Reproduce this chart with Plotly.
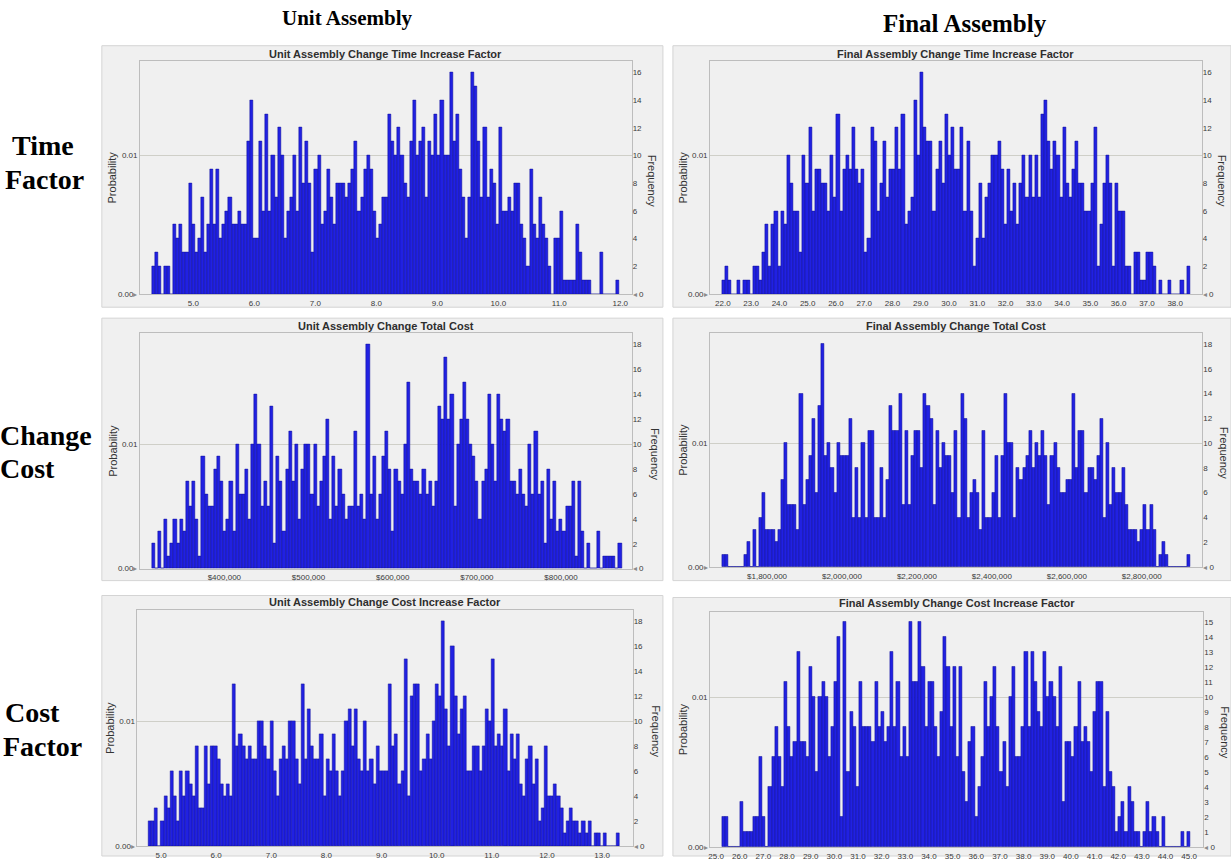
import numpy as np
import plotly.graph_objects as go

W, H = 1231, 861

# ---------------- data (frequency counts per bin, 1000 trials) ----------------
ua_time_counts = [2,3,2,0,2,2,0,5,4,5, 3,3,8,5,3,4,7,3,5,9, 5,9,4,5,6,7,5,5,6,5,
                  5,11,14,4,4,11,6,13,6,10, 7,12,10,4,6,7,10,6,12,8, 11,8,3,9,10,5,6,9,7,5,
                  8,8,8,7,8,9,11,6,7,9, 10,9,6,4,5,7,7,13,
                  11,10,12,10,8,7,11,14,10,11, 12,7,11,10,13,10,14,10,10,16, 11,13,9,7,4,7,16,15,11,7,
                  12,7,9,8,5,12,6,6,7,6, 8,8,5,4,2,9,5,4,7,5, 4,2,0,4,4,6,1,1,1,1,
                  5,3,1,1,1,0,0,0,3,0, 0,0,0,1]
ua_time_span = [4.317, 11.974]

fa_time_counts = [1,2,1,0,0,1,0,1,1,0, 2,2,1,3,5,2,5,6,2,6, 5,10,8,6,6,3,10,8,12,6,
                  9,9,8,8,6,10,7,13,6,9, 10,9,12,9,8,9,3,4,12,11, 6,8,11,7,9,9,12,9,13,5,
                  6,7,14,10,16,12,11,11,6,9, 11,8,13,10,12,9,
                  9,12,6,11,6,2,4,8,4,7, 8,10,10,11,9,5,9,6,8,5, 8,10,7,10,7,10,7,13,14,11,
                  9,11,10,7,12,8,7,9,11,8, 8,6,6,8,12,2,5,8,10,8, 2,8,6,6,2,2,0,3,3,1,
                  1,3,3,2,0,1,0,0,1,0, 0,0,1,0,2]
fa_time_span = [21.965, 38.52]

ua_cost_counts = [2,0,3,0,4,1,2,4,2,4, 3,7,5,7,4,1,9,6,5,5, 8,9,7,3,4,7,3,10,6,6,
                  8,4,10,14,10,5,7,5,13,2, 9,7,3,8,11,7,10,4,8,10, 10,6,10,5,7,9,12,4,9,5,
                  8,6,4,5,5,11,5,6,4,18, 6,9,4,6,9,11,8,
                  3,8,7,6,10,15,8,7,7,6, 8,6,7,5,7,13,12,17,12,14, 5,10,12,15,12,10,9,7,4,7,
                  8,14,10,7,14,12,11,12,7,7, 6,8,6,5,10,6,11,6,7,2, 8,4,7,3,4,3,5,5,7,1,
                  7,3,0,2,0,0,3,0,1,1, 1,1,0,2]
ua_cost_span = [313760, 872000]

fa_cost_counts = [1,1,0,0,0,0,0,1,2,0, 3,0,4,6,3,3,3,2,3,7, 10,5,5,5,3,14,5,7,9,12,
                  6,13,18,9,10,8,6,10,9,9, 9,12,4,8,4,10,4,11,11,4, 4,8,4,7,13,11,11,14,5,11,
                  5,9,11,11,8,14,13,12,5,11, 8,10,9,9,6,
                  11,4,14,12,4,6,7,6,3,11, 4,4,6,9,4,9,14,10,10,4, 8,7,8,9,11,8,10,9,11,9,
                  5,9,10,8,6,6,7,7,14,8, 11,11,6,8,8,7,9,12,4,10, 5,8,6,6,8,5,3,3,3,2,
                  3,5,3,5,3,0,1,2,1,0, 0,0,0,0,0,1]
fa_cost_span = [1680130, 2928660]

ua_cf_counts = [2,2,3,0,2,4,3,6,4,2, 6,4,6,5,4,8,3,3,8,5, 8,8,7,5,4,5,4,13,8,9,
                8,7,8,7,7,10,10,8,7,10, 6,4,7,8,7,10,10,7,5,13, 7,11,8,7,7,9,4,7,6,9,
                6,4,6,10,11,8,11,7,6,10, 6,7,5,8,6,6,6,13,
                8,9,5,6,15,4,12,13,13,6, 7,9,7,10,13,12,18,11,8,16, 12,9,11,12,6,6,8,8,6,8,
                11,10,15,8,9,8,11,6,9,7, 9,5,4,7,8,5,7,2,3,8, 4,4,5,4,3,1,2,3,2,2,
                1,2,1,2,0,1,1,0,1,0, 0,0,1]
ua_cf_span = [4.772, 13.313]

fa_cf_counts = [2,2,0,0,0,0,3,1,1,1, 2,2,6,2,0,4,6,8,6,4, 11,8,6,7,13,7,7,6,12,10,
                5,10,11,10,6,8,11,14,2,15, 5,9,8,4,11,8,8,8,7,11, 8,9,7,8,13,8,11,6,8,6,
                15,11,11,15,12,8,11,11,8,6, 9,14,12,8,12,6,
                12,5,3,7,8,2,4,6,11,8, 10,12,8,5,7,4,10,12,6,6, 8,13,8,13,11,9,8,13,10,11,
                10,8,12,3,7,7,6,8,11,7, 8,7,5,9,11,11,4,9,5,4, 1,2,3,1,4,3,1,1,0,1,
                3,1,2,1,0,2,0,0,0,0, 0,1,0,1]
fa_cf_span = [25.24, 45.04]

titles = ["Unit Assembly Change Time Increase Factor",
          "Final Assembly Change Time Increase Factor",
          "Unit Assembly Change Total Cost",
          "Final Assembly Change Total Cost",
          "Unit Assembly Change Cost Increase Factor",
          "Final Assembly Change Cost Increase Factor"]

ua_time_ticks = [5.0, 6.0, 7.0, 8.0, 9.0, 10.0, 11.0, 12.0]
fa_time_ticks = [float(v) for v in range(22, 39)]
ua_cost_ticks = [400000, 500000, 600000, 700000, 800000]
fa_cost_ticks = [1800000, 2000000, 2200000, 2400000, 2600000, 2800000]
ua_cf_ticks = [5.0, 6.0, 7.0, 8.0, 9.0, 10.0, 11.0, 12.0, 13.0]
fa_cf_ticks = [float(v) for v in range(25, 46)]

prob_ticks = [0.0, 0.01]
trials = 1000

col_headings = ["Unit Assembly", "Final Assembly"]
row_words = [["Time", "Factor"], ["Change", "Cost"], ["Cost", "Factor"]]

# ---------------- layout configuration (pixels) ----------------
panels = [
    dict(counts=ua_time_counts, span=ua_time_span, ticks=ua_time_ticks, fmt=".1f",
         xr=[4.126, 12.187], top=16.8, step=2,
         plot=(138.3, 61.7, 630.7, 295.7), frame=(100, 46, 662, 309),
         ty=54, probx=110, freqx=651),
    dict(counts=fa_time_counts, span=fa_time_span, ticks=fa_time_ticks, fmt=".1f",
         xr=[21.55, 38.94], top=16.8, step=2,
         plot=(709.3, 61.7, 1201.7, 295.7), frame=(672, 46, 1231, 309),
         ty=54, probx=682, freqx=1222),
    dict(counts=ua_cost_counts, span=ua_cost_span, ticks=ua_cost_ticks, fmt="$,.0f",
         xr=[299880, 883900], top=18.9, step=2,
         plot=(138.3, 335.3, 630.7, 572.0), frame=(100, 320, 662, 584),
         ty=328, probx=111, freqx=654),
    dict(counts=fa_cost_counts, span=fa_cost_span, ticks=fa_cost_ticks, fmt="$,.0f",
         xr=[1648170, 2961670], top=18.9, step=2,
         plot=(709.3, 334.7, 1202.3, 570.3), frame=(672, 320, 1231, 584),
         ty=327.5, probx=682, freqx=1224),
    dict(counts=ua_cf_counts, span=ua_cf_span, ticks=ua_cf_ticks, fmt=".1f",
         xr=[4.573, 13.555], top=18.9, step=2,
         plot=(135.7, 613.7, 631.7, 851.0), frame=(100, 599, 662, 861),
         ty=605.5, probx=108, freqx=655),
    dict(counts=fa_cf_counts, span=fa_cf_span, ticks=fa_cf_ticks, fmt=".1f",
         xr=[24.75, 45.6], top=15.7, step=1,
         plot=(709.3, 615.3, 1203.3, 852.0), frame=(672, 601, 1231, 861),
         ty=607, probx=682, freqx=1225),
]

def px(x):
    return x / W

def py(y):
    return 1 - y / H

FONT = "Liberation Sans, Arial, sans-serif"
SERIF = "Liberation Serif, Times New Roman, serif"
BAR = "#2121E2"
BAR_EDGE = "#0D0D96"

fig = go.Figure()
layout = dict(width=W, height=H, margin=dict(l=0, r=0, t=0, b=0),
              paper_bgcolor="white", plot_bgcolor="#FFFFF4",
              showlegend=False, bargap=0, barmode="overlay",
              font=dict(family=FONT, size=8, color="#333333"))
shapes, annotations = [], []

for i, p in enumerate(panels, start=1):
    counts = np.array(p["counts"], dtype=float)
    n = len(counts)
    edges = np.linspace(p["span"][0], p["span"][1], n + 1)
    centers = (edges[:-1] + edges[1:]) / 2
    width = edges[1] - edges[0]

    xid = "x" if i == 1 else f"x{i}"
    yprob = "y" if i == 1 else f"y{i}"
    yfreq = f"y{i + 6}"
    xkey = "xaxis" if i == 1 else f"xaxis{i}"
    ypkey = "yaxis" if i == 1 else f"yaxis{i}"
    yfkey = f"yaxis{i + 6}"

    x0, y0, x1, y1 = p["plot"]

    # invisible trace to activate the probability axis
    fig.add_trace(go.Scatter(x=[centers[0]], y=[0], mode="markers",
                             marker=dict(opacity=0), hoverinfo="skip",
                             xaxis=xid, yaxis=yprob))
    fig.add_trace(go.Bar(x=centers, y=counts, width=width,
                         marker=dict(color=BAR, line=dict(color=BAR_EDGE, width=0.5)),
                         xaxis=xid, yaxis=yfreq, hoverinfo="x+y"))

    layout[xkey] = dict(domain=[px(x0), px(x1)], anchor=yprob, range=p["xr"],
                        tickvals=p["ticks"], tickformat=p["fmt"], ticks="",
                        showgrid=False, zeroline=False, showline=True, mirror=True,
                        linecolor="#BDBDBD", linewidth=1,
                        tickfont=dict(size=8, color="#3A3A3A"), ticklabelstandoff=1)
    layout[ypkey] = dict(domain=[py(y1), py(y0)], anchor=xid, side="left",
                         range=[0, p["top"] / trials],
                         tickvals=prob_ticks,
                         ticktext=["0.00<span style='color:#8A8A8A'>▸</span>", "0.01"],
                         showgrid=True, gridcolor="#CFCFC8", gridwidth=1,
                         zeroline=False, showline=True, mirror=True,
                         linecolor="#BDBDBD", linewidth=1, ticks="",
                         tickfont=dict(size=8, color="#3A3A3A"))
    fvals = list(range(0, int(p["top"]) + 1, p["step"]))
    ftext = ["<span style='color:#8A8A8A'>◂</span> 0"] + [str(v) for v in fvals[1:]]
    layout[yfkey] = dict(overlaying=yprob, anchor=xid, side="right",
                         range=[0, p["top"]], tickvals=fvals, ticktext=ftext,
                         showgrid=False, zeroline=False, showline=False, ticks="",
                         tickfont=dict(size=8, color="#3A3A3A"))

    fx0, fy0, fx1, fy1 = p["frame"]
    shapes.append(dict(type="rect", xref="paper", yref="paper",
                       x0=px(fx0), x1=px(fx1), y0=py(fy1), y1=py(fy0),
                       fillcolor="#F0F0F0", line=dict(color="#D4D4D4", width=1),
                       layer="below"))

    annotations.append(dict(text=titles[i - 1], xref="paper", yref="paper",
                            x=px((x0 + x1) / 2), y=py(p["ty"]), showarrow=False,
                            xanchor="center", yanchor="middle",
                            font=dict(family=FONT, size=11, color="#2E2E2E", weight="bold")))
    annotations.append(dict(text="Probability", xref="paper", yref="paper",
                            x=px(p["probx"]), y=py((y0 + y1) / 2), showarrow=False,
                            textangle=-90, xanchor="center", yanchor="middle",
                            font=dict(family=FONT, size=11, color="#333333")))
    annotations.append(dict(text="Frequency", xref="paper", yref="paper",
                            x=px(p["freqx"]), y=py((y0 + y1) / 2 + 3), showarrow=False,
                            textangle=90, xanchor="center", yanchor="middle",
                            font=dict(family=FONT, size=11, color="#333333")))

# column headings
for text, cx, cy, size in zip(col_headings, [346, 965], [18, 24], [21, 25]):
    annotations.append(dict(text=f"<b>{text}</b>", xref="paper", yref="paper",
                            x=px(cx), y=py(cy), showarrow=False,
                            xanchor="center", yanchor="middle",
                            font=dict(family=SERIF, size=size, color="black")))

# row labels
row_pos = [[(8, 146), (1, 181)], [(-4, 438), (-4, 471)], [(1, 717), (-1, 751)]]
for words, poss in zip(row_words, row_pos):
    for w, (lx, ly) in zip(words, poss):
        annotations.append(dict(text=f"<b>{w}</b>", xref="paper", yref="paper",
                                x=px(lx), y=py(ly), showarrow=False,
                                xanchor="left", yanchor="middle",
                                font=dict(family=SERIF, size=28, color="black")))

layout["shapes"] = shapes
layout["annotations"] = annotations
fig.update_layout(**layout)
fig.write_html("out.html",
               config={"displayModeBar": False},
               post_script="document.body.style.margin='0px';"
                           "document.body.style.overflow='hidden';")
